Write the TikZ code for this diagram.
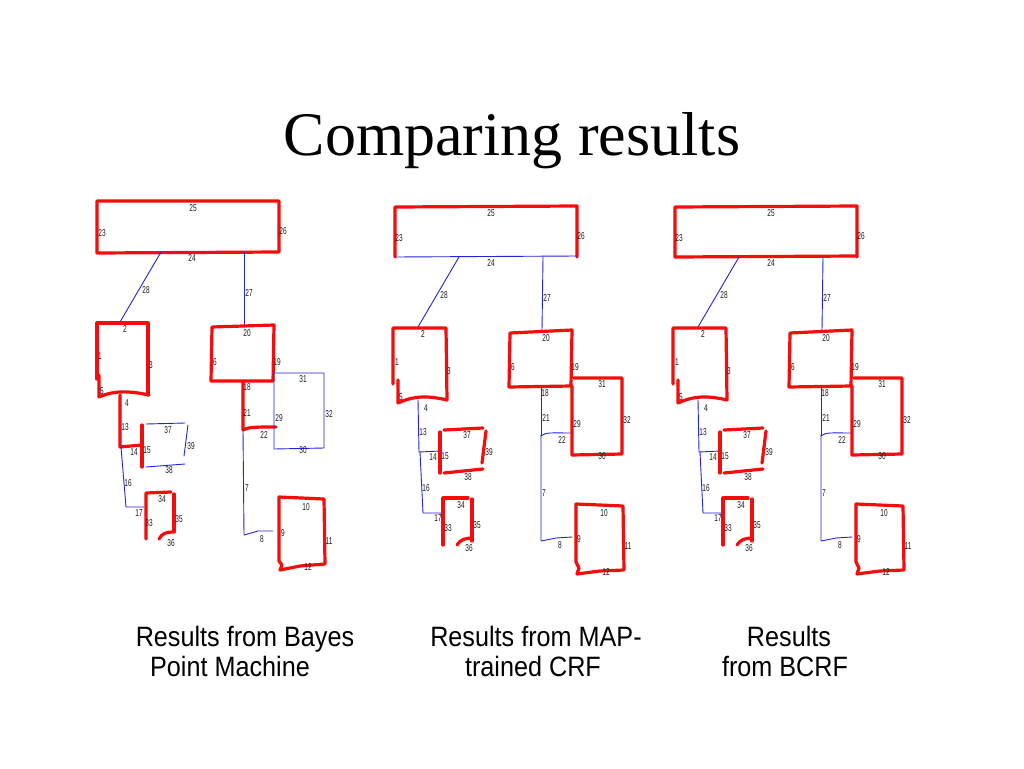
\documentclass[tikz,border=0pt]{standalone}
\usepackage{fontspec}
\setmainfont{Liberation Serif}
\newfontfamily\capfont{Liberation Sans}[FakeStretch=0.9]
\newfontfamily\numfont{Liberation Sans}[FakeStretch=0.65]
\definecolor{penred}{RGB}{245,12,12}
\definecolor{penblue}{RGB}{35,35,215}
\tikzset{
  redline/.style={draw=penred, line width=3.2pt, line cap=round, line join=round},
  blueline/.style={draw=penblue, line width=0.9pt, line cap=round, line join=round},
  numlbl/.style={inner sep=0pt, font=\numfont\fontsize{10}{10}\selectfont, text=black!90},
  caption/.style={anchor=base, inner sep=0pt, font=\capfont\fontsize{28}{30}\selectfont},
}
\newcommand{\numlab}[3]{\node[numlbl] (#1-#2) at (#3) {#2};}
% diagram used for the MAP-trained CRF and BCRF results (coordinates of the middle one)
% #1 = name prefix, #2 = style of edge 24
\newcommand{\diagBC}[2]{%
  % top box
  \draw[redline] (395,257) -- (395,207) -- (577,206) -- (577,257);
  \draw[#2] (395,257) -- (577,256);
  \coordinate (#1-a28) at (459,257); \coordinate (#1-b28) at (418,327);
  \coordinate (#1-a27) at (543,257); \coordinate (#1-b27) at (542,330);
  \draw[blueline] (#1-a28) -- (#1-b28);
  \draw[blueline] (#1-a27) -- (#1-b27);
  % box 2
  \draw[redline] (393,384) -- (393,328) -- (446,328) -- (447,400);
  \draw[redline] (398,380) -- (398,403) .. controls (415,395) and (430,396) .. (447,400);
  \draw[blueline] (418,400) -- (419,452) -- (440,451);
  \draw[redline] (440,432) -- (440,473);
  \draw[redline] (444,430) -- (483,428);
  \draw[redline] (486,431) -- (482,463);
  \draw[redline] (444,473) -- (483,469);
  \draw[blueline] (420,452) -- (423,513) -- (442,513);
  \draw[redline] (443,545) -- (443,498) -- (468,498);
  \draw[redline] (472,499) -- (472,541);
  \draw[redline] (457,545) .. controls (460,540) and (465,538) .. (472,538);
  % box 20
  \draw[redline] (510,333) -- (572,330) -- (571,386) -- (509,387) -- cycle;
  \draw[blueline] (541,386) -- (541,435);
  \draw[blueline] (541,436) .. controls (545,432) and (552,433) .. (572,433);
  % box 31
  \draw[redline] (574,378) -- (622,378) -- (622,454) -- (572,455) -- (572,386);
  \draw[blueline] (541,435) -- (541,541) -- (556,538) -- (572,537);
  % box 10
  \draw[redline] (576,504) -- (576,562) -- (579,568) -- (577,574) -- (600,571) -- (624,570) -- (623,506) -- cycle;
  % labels
  \numlab{#1}{25}{491,213} \numlab{#1}{23}{399,238} \numlab{#1}{26}{581,236}
  \numlab{#1}{24}{491,263} \numlab{#1}{28}{444,295} \numlab{#1}{27}{547,298}
  \numlab{#1}{2}{423,334} \numlab{#1}{1}{397,362} \numlab{#1}{3}{449,371}
  \numlab{#1}{5}{401,397} \numlab{#1}{4}{426,408} \numlab{#1}{13}{423,432}
  \numlab{#1}{14}{433,457} \numlab{#1}{15}{445,456} \numlab{#1}{37}{467,435}
  \numlab{#1}{39}{489,452} \numlab{#1}{38}{468,477} \numlab{#1}{16}{426,488}
  \numlab{#1}{17}{438,518} \numlab{#1}{33}{448,528} \numlab{#1}{34}{461,505}
  \numlab{#1}{35}{477,525} \numlab{#1}{36}{469,548} \numlab{#1}{20}{546,338}
  \numlab{#1}{6}{513,367} \numlab{#1}{19}{575,367} \numlab{#1}{18}{545,393}
  \numlab{#1}{21}{546,418} \numlab{#1}{22}{562,440} \numlab{#1}{31}{602,384}
  \numlab{#1}{29}{577,424} \numlab{#1}{32}{627,420} \numlab{#1}{30}{602,456}
  \numlab{#1}{7}{544,493} \numlab{#1}{8}{560,545} \numlab{#1}{10}{604,513}
  \numlab{#1}{9}{579,539} \numlab{#1}{11}{628,546} \numlab{#1}{12}{606,572}
}
\begin{document}
\begin{tikzpicture}[x=1pt, y=-1pt]
\useasboundingbox (0,0) rectangle (1024,768);
\fill[white] (0,0) rectangle (1024,768);
% title
\node[anchor=base, inner sep=0pt, font=\fontsize{62}{66}\selectfont] (title) at (512,155) {Comparing results};

% ---------- diagram 1 : Bayes Point Machine ----------
\draw[redline] (97,201) -- (279,201) -- (279,252) -- (97,253) -- cycle;
\coordinate (A-a28) at (161,252); \coordinate (A-b28) at (120,322);
\coordinate (A-a27) at (244,252); \coordinate (A-b27) at (244,325);
\draw[blueline] (A-a28) -- (A-b28);
\draw[blueline] (A-a27) -- (A-b27);
\draw[redline] (97,379) -- (97,323) -- (148,323) -- (148,395);
\draw[redline] (99,375) -- (99,397) .. controls (115,390) and (130,391) .. (149,395);
\draw[redline] (120,395) -- (120,447) -- (142,445);
\draw[redline] (142,425) -- (142,467);
\draw[blueline] (146,424) -- (185,423);
\draw[blueline] (188,425) -- (184,456);
\draw[blueline] (146,467) -- (185,464);
\draw[blueline] (121,447) -- (126,507) -- (144,507);
\draw[redline] (146,539) -- (146,493) -- (171,492);
\draw[redline] (174,494) -- (174,532);
\draw[redline] (159,539) .. controls (162,533) and (167,532) .. (173,532);
\draw[redline] (212,327) -- (274,325) -- (273,381) -- (211,381) -- cycle;
\draw[redline] (243,381) -- (243,430) .. controls (248,427) and (256,427) .. (276,427);
\draw[blueline] (274,373) -- (324,373) -- (324,448) -- (274,449) -- cycle;
\draw[blueline] (243,430) -- (244,535) -- (258,531) -- (273,531);
\draw[redline] (279,497) -- (279,561) -- (282,565) -- (280,570) -- (300,566) -- (325,564) -- (324,499) -- cycle;
\numlab{A}{25}{193,208} \numlab{A}{23}{102,233} \numlab{A}{26}{283,231}
\numlab{A}{24}{192,258} \numlab{A}{28}{146,290} \numlab{A}{27}{249,293}
\numlab{A}{2}{125,329} \numlab{A}{1}{100,356} \numlab{A}{3}{151,365}
\numlab{A}{5}{102,391} \numlab{A}{4}{127,403} \numlab{A}{13}{125,427}
\numlab{A}{14}{134,452} \numlab{A}{15}{147,450} \numlab{A}{37}{168,430}
\numlab{A}{39}{191,446} \numlab{A}{38}{169,470} \numlab{A}{16}{128,483}
\numlab{A}{17}{139,513} \numlab{A}{33}{149,523} \numlab{A}{34}{162,499}
\numlab{A}{35}{179,519} \numlab{A}{36}{171,543} \numlab{A}{20}{247,333}
\numlab{A}{6}{215,362} \numlab{A}{19}{277,362} \numlab{A}{18}{247,387}
\numlab{A}{21}{247,413} \numlab{A}{22}{264,435} \numlab{A}{31}{303,379}
\numlab{A}{29}{279,418} \numlab{A}{32}{329,414} \numlab{A}{30}{303,450}
\numlab{A}{7}{247,488} \numlab{A}{8}{262,539} \numlab{A}{10}{306,507}
\numlab{A}{9}{283,533} \numlab{A}{11}{329,541} \numlab{A}{12}{308,567}

% ---------- diagram 2 : MAP-trained CRF ----------
\begin{scope}
\diagBC{B}{blueline}
\end{scope}
% ---------- diagram 3 : BCRF ----------
\begin{scope}[xshift=280pt]
\diagBC{C}{redline}
\end{scope}

% captions
\node[caption] (capA1) at (245,646) {Results from Bayes};
\node[caption] (capA2) at (230,676) {Point Machine};
\node[caption] (capB1) at (536,646) {Results from MAP-};
\node[caption] (capB2) at (533,676) {trained CRF};
\node[caption] (capC1) at (789,646) {Results};
\node[caption] (capC2) at (785,676) {from BCRF};
\end{tikzpicture}
\end{document}
